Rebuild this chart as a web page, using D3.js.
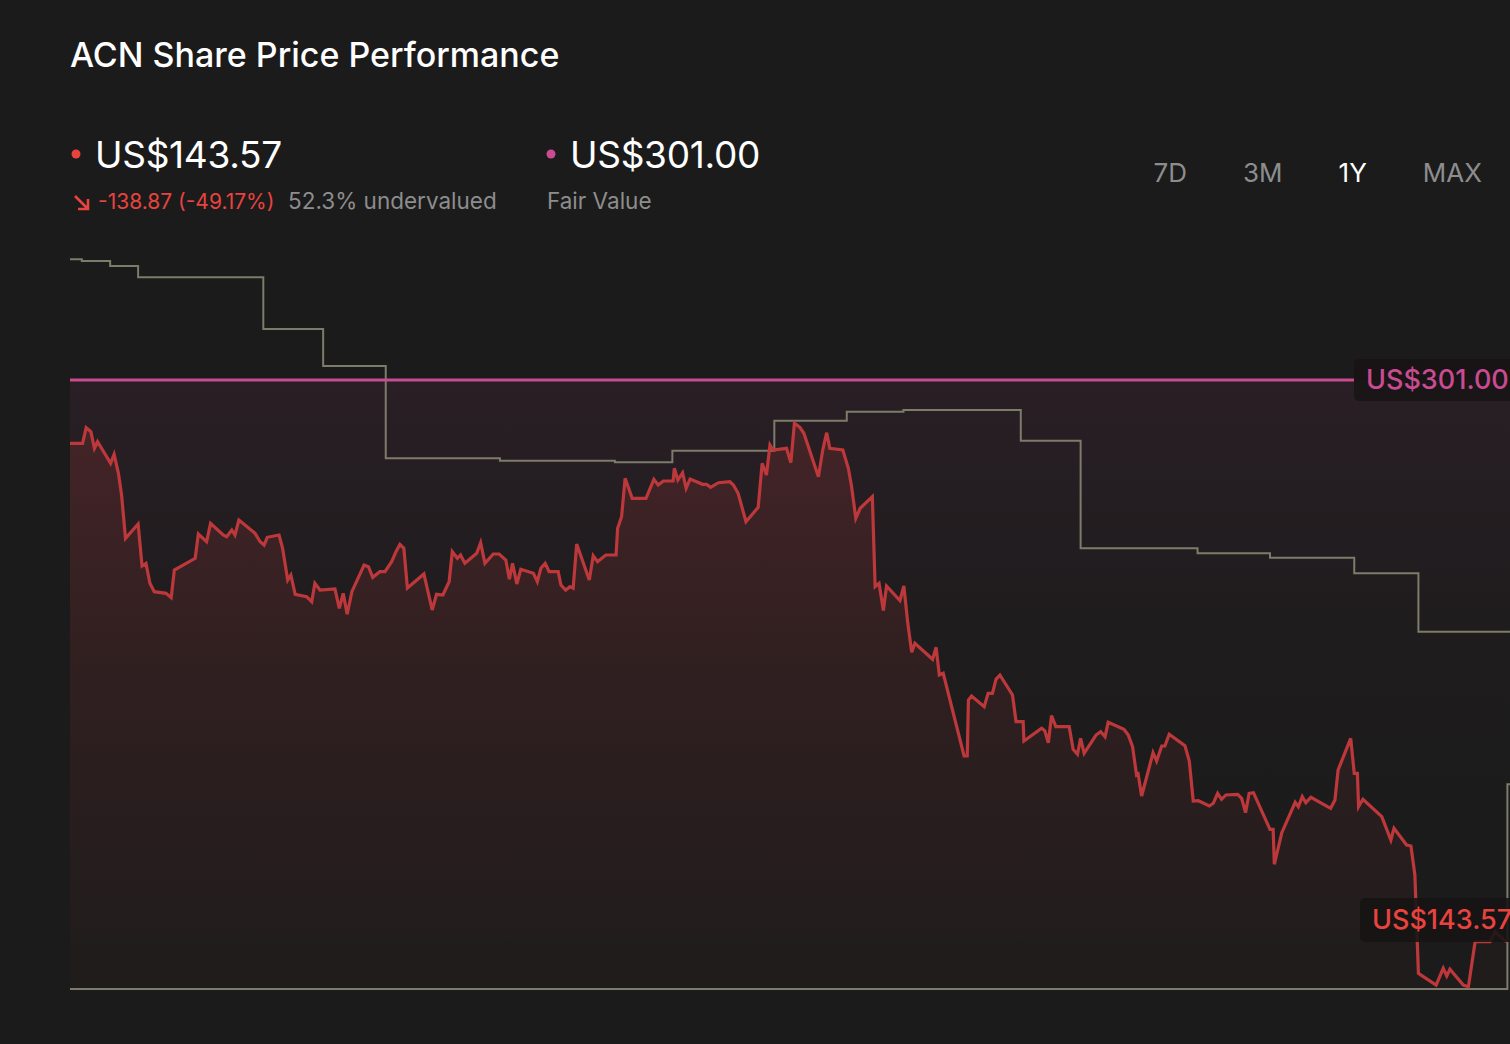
<!DOCTYPE html>
<html>
<head>
<meta charset="utf-8">
<script src="https://cdn.jsdelivr.net/npm/d3@7"></script>
<style>
  html, body { margin: 0; padding: 0; background: #1b1b1b; overflow: hidden; }
  svg { display: block; }
  text { font-family: Inter, "Liberation Sans", sans-serif; }
</style>
</head>
<body>
<script>
// ACN share price over the last year (day since start, US$)
const priceDays = [0, 3.2, 4.1, 5.3, 6.2, 7.0, 8.9, 10.3, 11.2, 12.3, 13.1, 14.1, 17.3, 18.3, 19.3, 20.3, 21.4, 24.4, 25.7, 26.5,
  27.7, 31.8, 32.6, 34.7, 35.7, 38.9, 39.8, 41.1, 41.9, 42.9, 47.0, 48.3, 49.3, 50.1, 53.1, 54.0, 55.3, 56.1, 57.2, 60.1,
  61.4, 62.2, 63.5, 67.3, 68.4, 69.4, 70.4, 71.6, 74.7, 75.8, 76.9, 78.7, 80.0, 81.7, 82.8, 83.8, 84.8, 85.7, 89.9, 92.0,
  93.1, 94.7, 96.3, 97.1, 98.4, 99.2, 100.3, 103.3, 104.3, 105.4, 107.5, 109.0, 110.7, 111.6, 112.4, 113.5, 114.5, 117.7, 118.7, 119.6,
  120.7, 121.7, 124.0, 124.7, 125.9, 127.0, 127.8, 128.7, 131.9, 132.9, 134.0, 136.1, 138.7, 139.1, 140.1, 141.0, 142.8, 146.3, 148.3, 149.4,
  150.7, 153.2, 153.5, 154.4, 155.6, 156.5, 157.5, 160.7, 161.7, 162.7, 164.7, 167.6, 168.5, 169.7, 171.7, 174.8, 175.8, 176.9, 177.8, 178.6,
  182.0, 183.1, 184.0, 185.4, 186.4, 190.1, 191.2, 192.2, 193.0, 196.3, 197.7, 198.5, 199.6, 200.7, 203.8, 204.5, 205.5, 206.6, 207.4, 210.8,
  211.8, 212.8, 213.8, 214.6, 219.1, 220.0, 220.8, 221.8, 227.1, 227.9, 228.2, 229.0, 232.2, 233.2, 234.3, 235.2, 236.2, 239.4, 240.3, 242.1,
  242.3, 246.8, 247.6, 248.5, 249.3, 250.4, 253.8, 254.8, 255.9, 256.7, 257.6, 260.6, 261.8, 262.9, 263.7, 267.7, 268.8, 269.9, 270.9, 271.3,
  272.2, 275.1, 276.0, 277.3, 278.1, 279.2, 283.2, 284.3, 285.3, 286.6, 289.4, 290.4, 291.5, 292.5, 293.6, 296.6, 297.6, 298.6, 299.5, 300.6,
  304.8, 305.6, 305.9, 307.8, 311.2, 312.0, 313.0, 313.9, 315.2, 320.2, 321.3, 322.1, 325.3, 326.2, 327.0, 327.3, 328.4, 333.2, 335.5, 336.3,
  339.5, 340.6, 341.6, 342.5, 347.0, 348.8, 349.7, 350.5, 353.9, 355.2, 356.9, 360.7, 362.0, 362.8, 365];
const priceValues = [283.27, 283.27, 287.64, 286.52, 281.87, 283.72, 280.27, 277.67, 280.19, 274.86, 268.79, 256.66, 260.66, 248.90, 249.65, 244.05, 241.70, 241.25, 240.02, 247.78,
  248.53, 251.05, 257.86, 255.70, 260.86, 257.58, 257.10, 258.98, 257.58, 261.78, 258.06, 255.70, 254.78, 256.94, 257.58, 253.85, 244.97, 246.37, 240.97, 240.30,
  238.90, 244.05, 242.17, 242.45, 237.05, 241.25, 235.37, 241.70, 249.18, 248.70, 245.73, 247.30, 247.30, 250.10, 252.90, 254.97, 253.85, 242.73, 246.65, 236.57,
  240.97, 240.77, 244.50, 252.90, 251.05, 251.98, 249.65, 252.45, 255.42, 249.65, 252.26, 252.26, 250.58, 245.17, 249.65, 243.85, 247.97, 246.85, 244.50, 248.25,
  249.65, 247.30, 247.30, 243.57, 242.17, 243.10, 242.65, 255.06, 244.97, 251.78, 250.10, 251.98, 251.98, 259.46, 262.71, 273.46, 267.86, 267.86, 273.18, 271.59,
  272.71, 272.71, 276.26, 272.99, 275.03, 270.66, 273.27, 271.78, 271.78, 270.94, 272.23, 272.51, 271.59, 269.26, 261.31, 265.34, 277.67, 274.39, 282.79, 281.39,
  281.87, 277.83, 288.87, 287.75, 286.07, 273.91, 281.39, 286.24, 281.87, 281.39, 276.26, 271.31, 262.26, 265.06, 268.31, 243.10, 244.05, 236.43, 243.29, 239.23,
  243.29, 232.84, 224.72, 227.24, 222.76, 226.12, 218.36, 218.84, 195.67, 195.67, 211.36, 212.48, 209.48, 213.23, 213.23, 217.16, 218.36, 212.76, 205.28, 205.28,
  199.87, 203.43, 202.76, 199.40, 206.96, 203.88, 203.88, 197.55, 196.15, 200.63, 196.43, 201.55, 202.48, 201.08, 205.11, 203.15, 201.55, 198.28, 190.35, 190.63,
  184.47, 196.60, 194.27, 198.47, 198.47, 201.75, 198.56, 194.27, 183.07, 183.15, 181.66, 182.42, 185.22, 183.54, 184.75, 184.94, 183.82, 179.79, 185.22, 185.39,
  175.14, 175.14, 165.33, 174.19, 182.70, 181.47, 184.27, 182.59, 184.10, 181.02, 183.35, 191.75, 200.63, 190.83, 190.83, 181.47, 183.54, 178.67, 172.14, 175.42,
  170.74, 170.46, 162.34, 134.80, 131.52, 136.20, 134.04, 135.92, 131.52, 131.05, 143.65, 143.65, 146.45, 145.53, 143.57];

// grey step series (day where each level starts, US$)
const stepDays = [0, 3.0, 10.2, 17.3, 49.1, 64.3, 80.2, 109.2, 138.4, 153.0, 178.9, 197.3, 211.7, 241.5, 256.7, 286.4, 304.8, 326.2, 342.5, 380];
const stepValues = [334.81, 334.34, 332.93, 329.77, 315.29, 304.92, 279.07, 278.39, 277.95, 281.19, 289.60, 292.12, 292.60, 284.00, 253.85, 252.45, 251.22, 246.85, 230.49, 230.49];
const floorDays = [0, 365.1, 380];
const floorValues = [130.4, 187.74, 187.74];

const fairValue = 301.00;
const lastPrice = 143.57;
const priceChange = -138.87;
const priceChangePct = -49.17;
const undervaluedPct = 52.3;
const periods = ["7D", "3M", "1Y", "MAX"];
const activePeriod = "1Y";

const width = 1560;
const height = 1044;
const red = "#e8433f";
const lineRed = "#bd383b";
const pink = "#c94b91";
const grey = "#7d7b6a";

const svg = d3.select("body").append("svg")
  .attr("width", width)
  .attr("height", height);

const x = d3.scaleLinear().domain([0, 365]).range([70, 1507]);
const y = d3.scaleLinear().domain([130.12, 334.62]).range([990, 260]);

const defs = svg.append("defs");
const pinkGrad = defs.append("linearGradient").attr("id", "pinkGrad")
  .attr("x1", 0).attr("y1", 0).attr("x2", 0).attr("y2", 1);
pinkGrad.append("stop").attr("offset", "0%").attr("stop-color", pink).attr("stop-opacity", 0.08);
pinkGrad.append("stop").attr("offset", "45%").attr("stop-color", pink).attr("stop-opacity", 0.015);
pinkGrad.append("stop").attr("offset", "100%").attr("stop-color", pink).attr("stop-opacity", 0.0);

const redGrad = defs.append("linearGradient").attr("id", "redGrad")
  .attr("gradientUnits", "userSpaceOnUse")
  .attr("x1", 0).attr("y1", y(290)).attr("x2", 0).attr("y2", y(130.12));
redGrad.append("stop").attr("offset", "0%").attr("stop-color", red).attr("stop-opacity", 0.15);
redGrad.append("stop").attr("offset", "100%").attr("stop-color", red).attr("stop-opacity", 0.02);

// plain hyphen for negatives, like the original
const locale = d3.formatLocale({ decimal: ".", thousands: ",", grouping: [3], currency: ["US$", ""], minus: "-" });
const fmt = locale.format(",.2f");

// ---- header ----
svg.append("text")
  .attr("x", 70).attr("y", 67)
  .attr("fill", "#ffffff")
  .style("font-size", "34px").style("font-weight", 500)
  .text("ACN Share Price Performance");

function headerValue(x0, color, value) {
  svg.append("circle").attr("cx", x0 + 6).attr("cy", 154).attr("r", 4.5).attr("fill", color);
  svg.append("text")
    .attr("x", x0 + 25).attr("y", 168)
    .attr("fill", "#ffffff")
    .style("font-size", "37px").style("letter-spacing", "-0.3px")
    .text("US$" + fmt(value));
}
headerValue(70, red, lastPrice);
headerValue(545, pink, fairValue);

// down arrow
svg.append("path")
  .attr("d", "M75,196 L88,209 M78,209 L88,209 L88,199")
  .attr("stroke", red).attr("stroke-width", 2.6).attr("fill", "none");

svg.append("text")
  .attr("x", 98).attr("y", 209)
  .attr("fill", red)
  .style("font-size", "21px")
  .text(fmt(priceChange) + " (" + fmt(priceChangePct) + "%)");

svg.append("text")
  .attr("x", 288).attr("y", 209)
  .attr("fill", "#8d8d8d")
  .style("font-size", "22.5px")
  .text(undervaluedPct + "% undervalued");

svg.append("text")
  .attr("x", 547).attr("y", 209)
  .attr("fill", "#8d8d8d")
  .style("font-size", "22.5px")
  .text("Fair Value");

// period selector, laid out right to left
let cursor = 1482;
periods.slice().reverse().forEach((p) => {
  const t = svg.append("text")
    .attr("x", cursor).attr("y", 182)
    .attr("text-anchor", "end")
    .attr("fill", p === activePeriod ? "#ffffff" : "#8d8d8d")
    .style("font-size", "26px")
    .text(p);
  cursor -= t.node().getComputedTextLength() + 56;
});

// ---- chart ----
const g = svg.append("g");

// fair value band
g.append("rect")
  .attr("x", x(0)).attr("y", y(fairValue))
  .attr("width", width - x(0)).attr("height", y.range()[0] - y(fairValue))
  .attr("fill", "url(#pinkGrad)");

const priceData = priceDays.map((d, i) => ({ d: d, v: priceValues[i] }));
const stepData = stepDays.map((d, i) => ({ d: d, v: stepValues[i] }));
const floorData = floorDays.map((d, i) => ({ d: d, v: floorValues[i] }));

const area = d3.area()
  .x((p) => x(p.d))
  .y0(y.range()[0])
  .y1((p) => y(p.v));
g.append("path").datum(priceData)
  .attr("d", area)
  .attr("fill", "url(#redGrad)");

const step = d3.line().x((p) => x(p.d)).y((p) => y(p.v)).curve(d3.curveStepAfter);
g.append("path").datum(stepData)
  .attr("d", step)
  .attr("fill", "none").attr("stroke", grey).attr("stroke-width", 2);
g.append("path").datum(floorData)
  .attr("d", step)
  .attr("fill", "none").attr("stroke", grey).attr("stroke-width", 2);

const line = d3.line().x((p) => x(p.d)).y((p) => y(p.v)).curve(d3.curveLinear);
g.append("path").datum(priceData)
  .attr("d", line)
  .attr("fill", "none").attr("stroke", lineRed)
  .attr("stroke-width", 3.2).attr("stroke-linejoin", "miter");

// fair value line and label
const labelX = 1354;
g.append("line")
  .attr("x1", x(0)).attr("x2", labelX)
  .attr("y1", y(fairValue)).attr("y2", y(fairValue))
  .attr("stroke", pink).attr("stroke-width", 3);

g.append("rect")
  .attr("x", labelX).attr("y", y(fairValue) - 21)
  .attr("width", 200).attr("height", 42).attr("rx", 5)
  .attr("fill", "rgba(24,20,22,0.9)");
g.append("text")
  .attr("x", labelX + 12).attr("y", y(fairValue) + 9)
  .attr("fill", pink)
  .style("font-size", "27px").style("font-weight", 500)
  .text("US$" + fmt(fairValue));

// last price label
const lastY = y(lastPrice) - 22;
g.append("rect")
  .attr("x", labelX + 6).attr("y", lastY - 22)
  .attr("width", 200).attr("height", 44).attr("rx", 5)
  .attr("fill", "rgba(22,19,19,0.88)");
g.append("text")
  .attr("x", labelX + 18).attr("y", lastY + 9)
  .attr("fill", red)
  .style("font-size", "27px").style("font-weight", 500)
  .text("US$" + fmt(lastPrice));
</script>
</body>
</html>
